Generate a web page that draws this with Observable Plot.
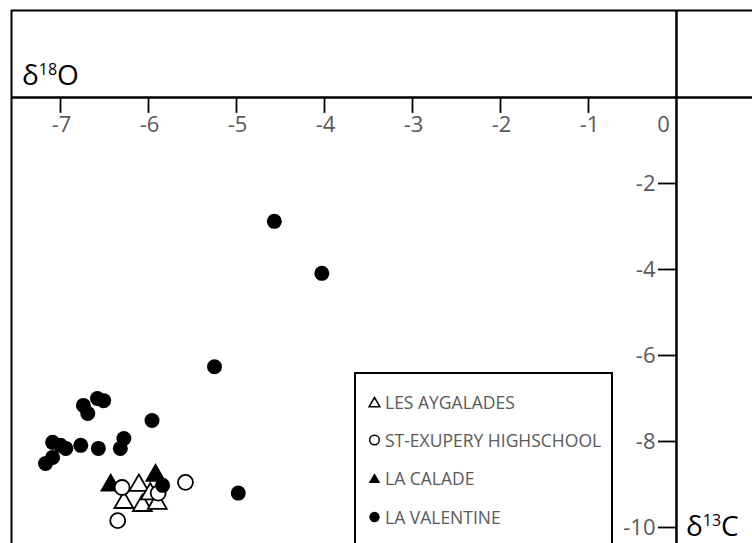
<!DOCTYPE html>
<html>
<head>
<meta charset="utf-8">
<script src="https://cdn.jsdelivr.net/npm/d3@7"></script>
<script src="https://cdn.jsdelivr.net/npm/@observablehq/plot@0.6"></script>
<style>
  html, body { margin: 0; padding: 0; overflow: hidden; background: #fff; }
  #wrap { position: relative; width: 752px; height: 543px; overflow: hidden; font-family: "Open Sans", sans-serif; }
  #legend { position: absolute; left: 354px; top: 372px; width: 259px; height: 200px; border: 2px solid #000; background: #fff; box-sizing: border-box; }
  .item { position: absolute; left: 12px; height: 22px; display: flex; align-items: center; color: #595959; font-size: 17.5px; white-space: nowrap; }
  .item svg { margin-right: 4px; }
</style>
</head>
<body>
<div id="wrap"><div id="chart"></div><div id="legend"></div></div>
<script>
// LES AYGALADES (open triangles)
const aygX = [-6.11, -6.28, -6.07, -5.90, -5.98];
const aygY = [-9.02, -9.42, -9.49, -9.44, -9.22];
// ST-EXUPERY HIGHSCHOOL (open circles)
const stxX = [-6.30, -5.58, -6.35, -5.89];
const stxY = [-9.07, -8.95, -9.84, -9.20];
// LA CALADE (filled triangles)
const calX = [-6.43, -5.92];
const calY = [-9.02, -8.79];
// LA VALENTINE (filled circles)
const valX = [-4.57, -4.03, -5.25, -6.58, -6.51, -6.74, -6.69, -5.96, -7.09, -7.00, -6.94, -6.77, -6.57, -6.28, -6.32, -7.09, -7.17, -4.98, -5.84];
const valY = [-2.88, -4.09, -6.26, -7.00, -7.05, -7.16, -7.35, -7.51, -8.02, -8.09, -8.16, -8.09, -8.16, -7.93, -8.16, -8.37, -8.51, -9.20, -9.02];

const xTicks = [-7, -6, -5, -4, -3, -2, -1];
const yTicks = [-2, -4, -6, -8, -10];
const seriesNames = ["LES AYGALADES", "ST-EXUPERY HIGHSCHOOL", "LA CALADE", "LA VALENTINE"];

const toRows = (xs, ys) => xs.map((x, i) => ({x, y: ys[i]}));
const ayg = toRows(aygX, aygY), stx = toRows(stxX, stxY), cal = toRows(calX, calY), val = toRows(valX, valY);

const xDomain = [-7.557, 0.864];
const yDomain = [-10.372, 2.023];
const labelColor = "#595959";

const plot = Plot.plot({
  width: 752, height: 543,
  marginLeft: 11, marginTop: 10, marginRight: 0, marginBottom: 0,
  x: {domain: xDomain, axis: null},
  y: {domain: yDomain, axis: null},
  style: {fontFamily: "Open Sans, sans-serif", background: "#fff"},
  marks: [
    Plot.ruleY([yDomain[1]], {stroke: "#000", strokeWidth: 2}),
    Plot.ruleX([xDomain[0]], {stroke: "#000", strokeWidth: 2}),
    Plot.ruleY([0], {stroke: "#000", strokeWidth: 2.5}),
    Plot.ruleX([0], {stroke: "#000", strokeWidth: 2.5}),
    Plot.ruleX(xTicks, {x: d => d, y1: 0, y2: -0.37, stroke: "#000", strokeWidth: 1.8}),
    Plot.ruleY(yTicks, {y: d => d, x1: -0.205, x2: 0, stroke: "#000", strokeWidth: 1.8}),
    Plot.text(xTicks, {x: d => d, y: 0, dy: 27, dx: 1, text: d => String(d), fontSize: 22, fill: labelColor}),
    Plot.text([0], {x: d => d, y: 0, dy: 27, dx: -13, text: d => String(d), fontSize: 22, fill: labelColor}),
    Plot.text(yTicks, {x: 0, y: d => d, dx: -21, textAnchor: "end", text: d => String(d), fontSize: 22, fill: labelColor}),
    Plot.dot(cal, {x: "x", y: "y", symbol: "triangle", r: 7, fill: "#000", stroke: "#000"}),
    Plot.dot(ayg, {x: "x", y: "y", symbol: "triangle", r: 7, fill: "#fff", stroke: "#000", strokeWidth: 1.8}),
    Plot.dot(stx, {x: "x", y: "y", symbol: "circle", r: 7.5, fill: "#fff", stroke: "#000", strokeWidth: 1.8}),
    Plot.dot(val, {x: "x", y: "y", symbol: "circle", r: 7.5, fill: "#000", stroke: "none"})
  ]
});
document.getElementById("chart").appendChild(plot);

// axis titles with superscripts
const svg = d3.select(plot);
function title(x, y, sup, letter) {
  const t = svg.append("text").attr("x", x).attr("y", y).attr("fill", "#000")
    .attr("text-anchor", "start")
    .style("font-family", "Open Sans, sans-serif");
  t.append("tspan").attr("font-size", 28).text("δ");
  t.append("tspan").attr("font-size", 16).attr("dy", -10).text(sup);
  t.append("tspan").attr("font-size", 28).attr("dy", 10).text(letter);
}
title(22, 85, "18", "O");
title(686, 536, "13", "C");

// legend
const legend = document.getElementById("legend");
const icons = [
  '<svg width="13" height="12" viewBox="0 0 13 12"><path d="M6.5 1.5 L12 10.8 L1 10.8 Z" fill="#fff" stroke="#000" stroke-width="1.5"/></svg>',
  '<svg width="13" height="12" viewBox="0 0 13 12"><circle cx="6.5" cy="6" r="4.8" fill="#fff" stroke="#000" stroke-width="1.5"/></svg>',
  '<svg width="13" height="12" viewBox="0 0 13 12"><path d="M6.5 1.2 L12.3 11 L0.7 11 Z" fill="#000"/></svg>',
  '<svg width="13" height="12" viewBox="0 0 13 12"><circle cx="6.5" cy="6" r="5.2" fill="#000"/></svg>'
];
const rowTops = [17, 55, 93, 132];
seriesNames.forEach((name, i) => {
  const d = document.createElement("div");
  d.className = "item";
  d.style.top = rowTops[i] + "px";
  d.innerHTML = icons[i] + "<span>" + name + "</span>";
  legend.appendChild(d);
});
</script>
</body>
</html>
